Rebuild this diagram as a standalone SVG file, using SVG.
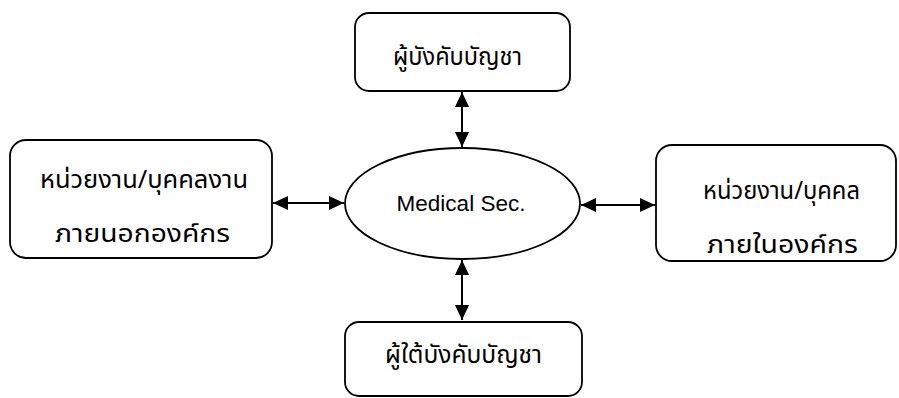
<svg xmlns="http://www.w3.org/2000/svg" width="899" height="398" viewBox="0 0 899 398">
<style>
.box{fill:#fff;stroke:#000;stroke-width:1.8}
.th{font-family:"Noto Sans Thai","Noto Sans","DejaVu Sans",sans-serif;font-size:25px;fill:#000;text-anchor:middle}
.en{font-family:"Liberation Sans",Arial,sans-serif;font-size:22.5px;fill:#000;text-anchor:middle}
.conn{stroke:#000;stroke-width:2;fill:none;marker-start:url(#ah);marker-end:url(#ah)}
</style>
<defs>
<marker id="ah" viewBox="0 0 15 14" refX="15" refY="7" markerWidth="15" markerHeight="14" markerUnits="userSpaceOnUse" orient="auto-start-reverse">
<path d="M0,0 L15,7 L0,14 Z" fill="#000"/>
</marker>
</defs>
<rect width="899" height="398" fill="#fff"/>
<g id="connectors">
<line class="conn" x1="462" y1="92" x2="462" y2="147"/>
<line class="conn" x1="462" y1="260" x2="462" y2="320"/>
<line class="conn" x1="273" y1="203" x2="344" y2="203"/>
<line class="conn" x1="581" y1="205" x2="655" y2="205"/>
</g>
<g id="top">
<rect class="box" x="355" y="13" width="215" height="78" rx="14"/>
<text class="th" x="457.5" y="65" textLength="129" lengthAdjust="spacingAndGlyphs">ผู้บังคับบัญชา</text>
</g>
<g id="center">
<ellipse class="box" cx="462.5" cy="203.5" rx="117.5" ry="55.5"/>
<text class="en" x="461" y="211">Medical Sec.</text>
</g>
<g id="left">
<rect class="box" x="10" y="140" width="262" height="118" rx="16"/>
<text class="th" x="144" y="188" textLength="208" lengthAdjust="spacingAndGlyphs">หน่วยงาน/บุคคลงาน</text>
<text class="th" x="142.5" y="242" textLength="175" lengthAdjust="spacingAndGlyphs">ภายนอกองค์กร</text>
</g>
<g id="right">
<rect class="box" x="656" y="145" width="240" height="116" rx="16"/>
<text class="th" x="781.5" y="199" textLength="157" lengthAdjust="spacingAndGlyphs">หน่วยงาน/บุคคล</text>
<text class="th" x="782.5" y="253" textLength="151" lengthAdjust="spacingAndGlyphs">ภายในองค์กร</text>
</g>
<g id="bottom">
<rect class="box" x="345" y="322" width="237" height="74" rx="14"/>
<text class="th" x="463.5" y="363" textLength="157" lengthAdjust="spacingAndGlyphs">ผู้ใต้บังคับบัญชา</text>
</g>
</svg>
